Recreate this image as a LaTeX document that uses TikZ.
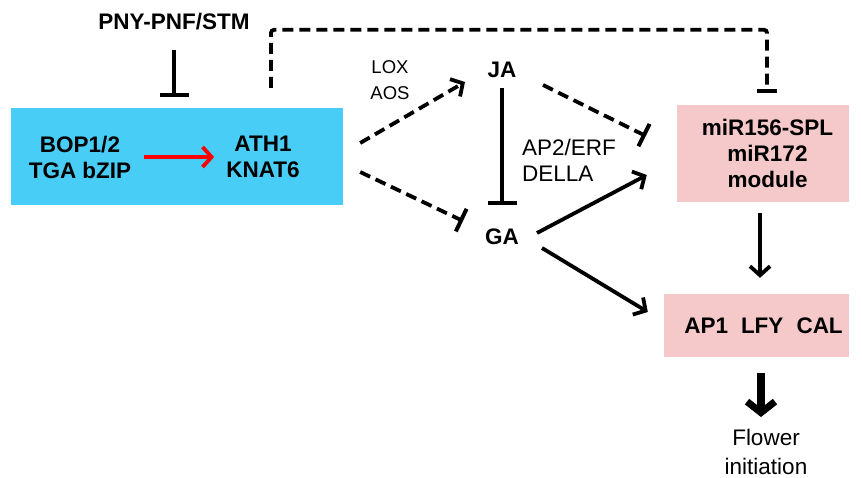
\documentclass[tikz,border=0pt]{standalone}
\usepackage{fontspec}
\setmainfont{Liberation Sans}
\usetikzlibrary{arrows.meta}
\definecolor{boxblue}{RGB}{72,205,246}
\definecolor{boxpink}{RGB}{245,201,201}
\begin{document}
\begin{tikzpicture}[x=1pt,y=-1pt,
  lbl/.style={inner sep=0pt,align=center,font=\fontsize{22.5}{26}\selectfont\bfseries},
  lbln/.style={inner sep=0pt,align=center,font=\fontsize{22.5}{26}\selectfont},
  smalllbl/.style={inner sep=0pt,align=center,font=\fontsize{18.5}{26}\selectfont},
  conn/.style={line width=3.8pt},
  arr/.style={conn,-{Straight Barb[length=9pt,width=20pt,line width=3.8pt]}},
  inh/.style={conn,-{Bar[width=29pt,line width=4pt]}},
  dinh/.style={conn,dsh,-{Bar[width=25pt,line width=4pt]}},
  dsh/.style={dash pattern=on 11pt off 6pt},
  thickarr/.style={line width=7.5pt,-{Straight Barb[length=11pt,width=28pt,line width=7pt]}}
]
\useasboundingbox (0,0) rectangle (862,478);

% boxes
\node[fill=boxblue,minimum width=332pt,minimum height=97pt,inner sep=0pt] (box) at (177,156.5) {};
\node[lbl] (bop) at (80,157) {BOP1/2\\TGA bZIP};
\node[lbl] (ath) at (263,157) {ATH1\\KNAT6};
\node[lbl] (pny) at (174,22) {PNY-PNF/STM};

\node[lbl,fill=boxpink,minimum width=172pt,minimum height=97pt] (mir) at (763,153.5) {\hspace*{9pt}miR156-SPL\\\hspace*{9pt}miR172\\\hspace*{9pt}module};
\node[lbl,fill=boxpink,minimum width=185pt,minimum height=63pt] (ap1) at (756.5,325.5) {\hspace*{14pt}AP1\hspace{13pt}LFY\hspace{13pt}CAL};

\node[lbl] (ja) at (502,70) {JA};
\node[lbl] (ga) at (502,237) {GA};
\node[smalllbl] (lox) at (390,80) {LOX\\AOS};
\node[lbln,align=left,anchor=west] (ap2) at (522,160) {AP2/ERF\\DELLA};
\node[lbln,font=\fontsize{22.5}{29}\selectfont] (flower) at (766,452) {Flower\\initiation};

% connectors
\draw[inh] ([yshift=-19pt]pny.south) -- ([yshift=11pt]box.north -| pny);
\draw[arr,red] ([xshift=13pt]bop.east) -- ([xshift=-12pt]ath.west);

\draw[conn,dsh,rounded corners=3pt,-{Bar[width=20pt,line width=4pt]}]
  ([xshift=8pt,yshift=20pt]box.north -| ath) -- ++(0,-58) -| ([xshift=4pt,yshift=12pt]mir.north);

\draw[arr,dsh] ([xshift=17pt,yshift=13.5pt]box.east) -- ([xshift=-37pt,yshift=-12pt]ja.center);
\draw[dinh] ([xshift=17pt,yshift=-15.5pt]box.east) -- ([xshift=-39pt,yshift=16pt]ga.center);

\draw[inh] ([yshift=-18pt]ja.center) -- ([yshift=32pt]ga.center);
\draw[dinh] ([xshift=41pt,yshift=-15pt]ja.center) -- ([xshift=-31pt,yshift=17.5pt]mir.west);

\draw[arr] ([xshift=35pt,yshift=4pt]ga.center) -- ([xshift=-30pt,yshift=-21.5pt]mir.west);
\draw[arr] ([xshift=40pt,yshift=-11pt]ga.center) -- ([xshift=-16pt,yshift=13.5pt]ap1.west);

\draw[arr] ([yshift=-11pt]mir.south -| 760,0) -- ([yshift=16pt]ap1.north -| 760,0);
\draw[thickarr] ([yshift=-16pt]ap1.south -| 761,0) -- ([yshift=12pt]flower.north -| 761,0);
\end{tikzpicture}
\end{document}
